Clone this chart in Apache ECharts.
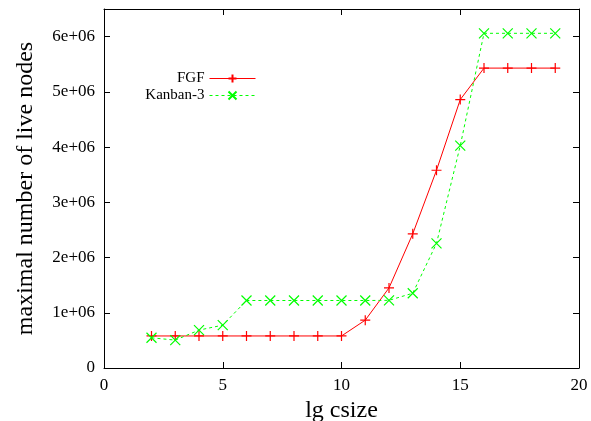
<!DOCTYPE html>
<html>
<head>
<meta charset="utf-8">
<script src="https://cdn.jsdelivr.net/npm/echarts@6/dist/echarts.min.js"></script>
<style>html,body{margin:0;padding:0;background:#fff}#c{width:591px;height:421px}</style>
</head>
<body>
<div id="c"></div>
<script>
var xValues = [2,3,4,5,6,7,8,9,10,11,12,13,14,15,16,17,18,19];
var fgf = [580000,580000,580000,580000,580000,580000,580000,580000,580000,866000,1450000,2430000,3580000,4860000,5430000,5430000,5430000,5430000];
var kanban3 = [547000,505000,686000,776000,1222000,1222000,1222000,1222000,1222000,1222000,1225000,1354000,2256000,4025000,6060000,6060000,6060000,6060000];
var seriesNames = ['FGF','Kanban-3'];
var xTitle = 'lg csize';
var yTitle = 'maximal number of live nodes';

var FONT = 'Liberation Serif';
function pairs(xs, ys){ return xs.map(function(x,i){ return [x, ys[i]]; }); }
var plusPath = 'path://M5,0L5,10M0,5L10,5';
var crossPath = 'path://M0,0L10,10M0,10L10,0';
var axisLine = {show:true, onZero:false, lineStyle:{color:'#000', width:1}};
var tick = {show:true, inside:true, length:6, lineStyle:{color:'#000', width:1}};

var chart = echarts.init(document.getElementById('c'), null, {renderer:'canvas'});
chart.setOption({
  animation:false,
  backgroundColor:'#fff',
  grid:{left:104, right:12, top:9, bottom:53, containLabel:false, outerBoundsMode:'none'},
  legend:[
    {data:[seriesNames[0]], orient:'vertical', align:'right', right:330, top:66, itemWidth:46, itemHeight:10,
     lineStyle:{width:1}, textStyle:{fontFamily:FONT, fontSize:15, color:'#000'}},
    {data:[seriesNames[1]], orient:'vertical', align:'right', right:330, top:83, itemWidth:46, itemHeight:10,
     lineStyle:{width:1}, textStyle:{fontFamily:FONT, fontSize:15, color:'#000'}}
  ],
  xAxis:[
    {type:'value', min:0, max:20, interval:5, position:'bottom',
     name:xTitle, nameLocation:'middle', nameGap:28,
     nameTextStyle:{fontFamily:FONT, fontSize:24, color:'#000'},
     axisLine:axisLine, axisTick:tick, splitLine:{show:false},
     axisLabel:{fontFamily:FONT, fontSize:17, color:'#000', margin:9}},
    {type:'value', min:0, max:20, interval:5, position:'top',
     axisLine:axisLine, axisTick:tick, splitLine:{show:false}, axisLabel:{show:false}}
  ],
  yAxis:[
    {type:'value', min:0, max:6500000, interval:1000000, position:'left',
     name:yTitle, nameLocation:'middle', nameGap:66,
     nameTextStyle:{fontFamily:FONT, fontSize:24, color:'#000'},
     axisLine:axisLine, axisTick:tick, splitLine:{show:false},
     axisLabel:{fontFamily:FONT, fontSize:17, color:'#000', margin:9,
       formatter:function(v){ if(v===0) return '0'; if(v%1000000!==0) return ''; return (v/1000000)+'e+06'; }}},
    {type:'value', min:0, max:6500000, interval:1000000, position:'right',
     axisLine:axisLine, axisTick:tick, splitLine:{show:false}, axisLabel:{show:false}}
  ],
  series:[
    {name:seriesNames[0], type:'line', data:pairs(xValues, fgf),
     lineStyle:{color:'#ff0000', width:1},
     symbol:plusPath, symbolSize:10,
     itemStyle:{color:'rgba(0,0,0,0)', borderColor:'#ff0000', borderWidth:1.2},
     color:'#ff0000'},
    {name:seriesNames[1], type:'line', data:pairs(xValues, kanban3),
     lineStyle:{color:'#00ff00', width:1, type:[3,3]},
     symbol:crossPath, symbolSize:10,
     itemStyle:{color:'rgba(0,0,0,0)', borderColor:'#00ff00', borderWidth:1.2},
     color:'#00ff00'}
  ]
});
</script>
</body>
</html>
